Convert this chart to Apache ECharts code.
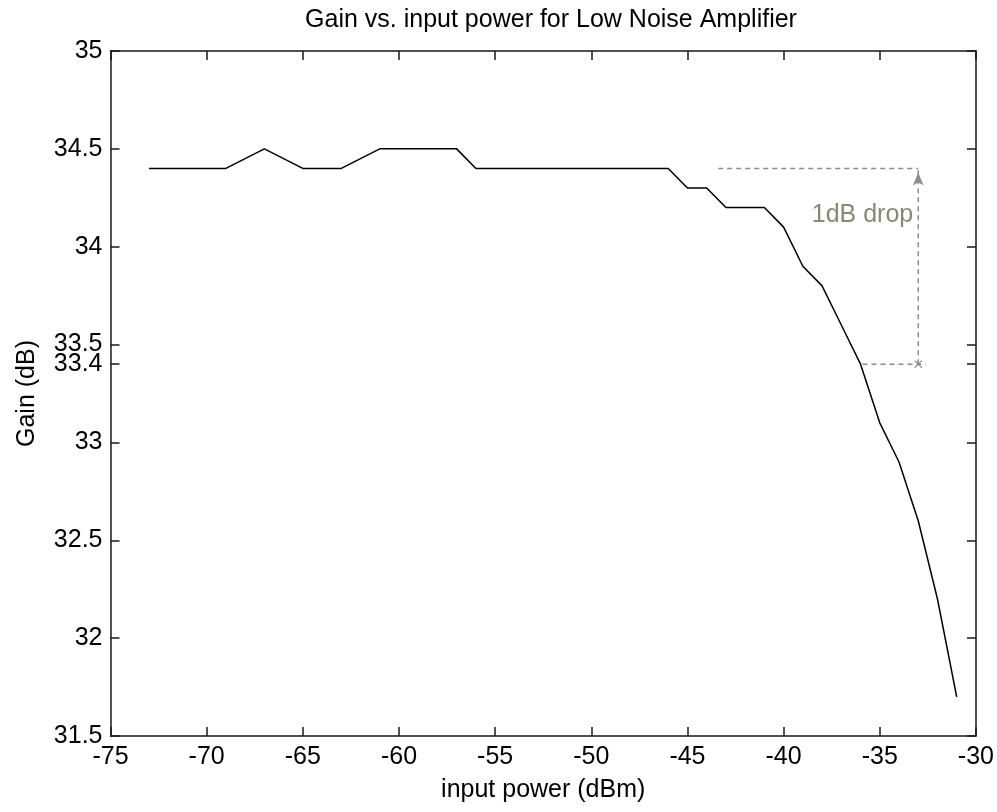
<!DOCTYPE html>
<html>
<head>
<meta charset="utf-8">
<script src="https://cdn.jsdelivr.net/npm/echarts@6/dist/echarts.min.js"></script>
<style>
html,body{margin:0;padding:0;background:#fff;}
#chart{width:997px;height:812px;}
</style>
</head>
<body>
<div id="chart"></div>
<script>
// ---- data ----
const inputPower = [-73,-71,-69,-67,-65,-63,-61,-59,-57,-56,-55,-54,-53,-52,-51,-50,-49,-48,-47,-46,-45,-44,-43,-42,-41,-40,-39,-38,-37,-36,-35,-34,-33,-32,-31];
const gain       = [34.4,34.4,34.4,34.5,34.4,34.4,34.5,34.5,34.5,34.4,34.4,34.4,34.4,34.4,34.4,34.4,34.4,34.4,34.4,34.4,34.3,34.3,34.2,34.2,34.2,34.1,33.9,33.8,33.6,33.4,33.1,32.9,32.6,32.2,31.7];
const xTicks = [-75,-70,-65,-60,-55,-50,-45,-40,-35,-30];
const yTicks = [31.5,32,32.5,33,33.4,33.5,34,34.5,35];
// 1 dB drop annotation
const refGain = 34.4;
const dropGain = 33.4;
const upperDashX = [-43.4, -33];
const lowerDashX = [-35.9, -32.6];
const arrowX = -33;
const dropLabel = '1dB drop';
const dropLabelGain = 34.16;

const FONT = '"Liberation Sans", Arial, Helvetica, sans-serif';
const FS = 25;
const AX = '#1a1a1a';

const chart = echarts.init(document.getElementById('chart'), null, {renderer: 'canvas'});
const xMin = xTicks[0], xMax = xTicks[xTicks.length - 1];
const yMin = yTicks[0], yMax = yTicks[yTicks.length - 1];

function xAxisCfg(pos, show) {
  return {
    type: 'value', position: pos, min: xMin, max: xMax, interval: 5,
    axisLine: {show: true, onZero: false, lineStyle: {color: AX, width: 1.5}},
    axisTick: {show: true, inside: true, length: 9, lineStyle: {color: AX, width: 1.5}},
    axisLabel: {show: show, color: '#000', fontFamily: FONT, fontSize: FS, margin: 9,
                customValues: xTicks, showMinLabel: true, showMaxLabel: true},
    splitLine: {show: false}
  };
}
function yAxisCfg(pos, show) {
  return {
    type: 'value', position: pos, min: yMin, max: yMax,
    axisLine: {show: true, onZero: false, lineStyle: {color: AX, width: 1.5}},
    axisTick: {show: true, inside: true, length: 9, customValues: yTicks, lineStyle: {color: AX, width: 1.5}},
    axisLabel: {show: show, color: '#000', fontFamily: FONT, fontSize: FS, margin: 8,
                customValues: yTicks, formatter: v => String(v), showMinLabel: true, showMaxLabel: true},
    splitLine: {show: false}
  };
}

const xb = xAxisCfg('bottom', true);
xb.name = 'input power (dBm)';
xb.nameLocation = 'middle';
xb.nameGap = 42;
xb.nameTextStyle = {color: '#000', fontFamily: FONT, fontSize: FS};
const xt = xAxisCfg('top', false);
const yl = yAxisCfg('left', true);
yl.name = 'Gain (dB)';
yl.nameLocation = 'middle';
yl.nameGap = 71;
yl.nameTextStyle = {color: '#000', fontFamily: FONT, fontSize: FS};
const yr = yAxisCfg('right', false);

const grayDash = {color: '#8c8c8c', width: 1.5, type: [5, 4]};
const xSymbol = 'path://M0,1L1,0L5,4L9,0L10,1L6,5L10,9L9,10L5,6L1,10L0,9L4,5Z';

chart.setOption({
  animation: false,
  backgroundColor: '#fff',
  title: {
    text: 'Gain vs. input power for Low Noise Amplifier',
    left: 546, top: 3, textAlign: 'center',
    textStyle: {color: '#000', fontFamily: FONT, fontSize: FS, fontWeight: 'normal'}
  },
  grid: {left: 110.5, right: 15.5, top: 51, bottom: 76, containLabel: false},
  xAxis: [xb, xt],
  yAxis: [yl, yr],
  series: [
    {
      type: 'line', xAxisIndex: 0, yAxisIndex: 0,
      data: inputPower.map((x, i) => [x, gain[i]]),
      showSymbol: false, symbol: 'none',
      lineStyle: {color: '#000', width: 1.5},
      z: 5
    },
    {
      type: 'line', data: upperDashX.map(x => [x, refGain]),
      showSymbol: false, symbol: 'none', lineStyle: grayDash, z: 3
    },
    {
      type: 'line', data: lowerDashX.map(x => [x, dropGain]),
      showSymbol: false, symbol: 'none', lineStyle: grayDash, z: 3
    },
    {
      type: 'line',
      data: [
        {value: [arrowX, dropGain], symbol: xSymbol, symbolSize: 8},
        {value: [arrowX, refGain], symbol: 'arrow', symbolSize: [8, 13], symbolOffset: [0, 4]}
      ],
      showSymbol: true,
      itemStyle: {color: '#8c8c8c'},
      lineStyle: grayDash, z: 4
    },
    {
      type: 'scatter', data: [[arrowX, dropLabelGain]],
      symbolSize: 0,
      label: {show: true, position: 'left', distance: 5, formatter: dropLabel,
              color: '#6b6b4e', fontFamily: FONT, fontSize: FS},
      z: 6
    }
  ]
});
</script>
</body>
</html>
